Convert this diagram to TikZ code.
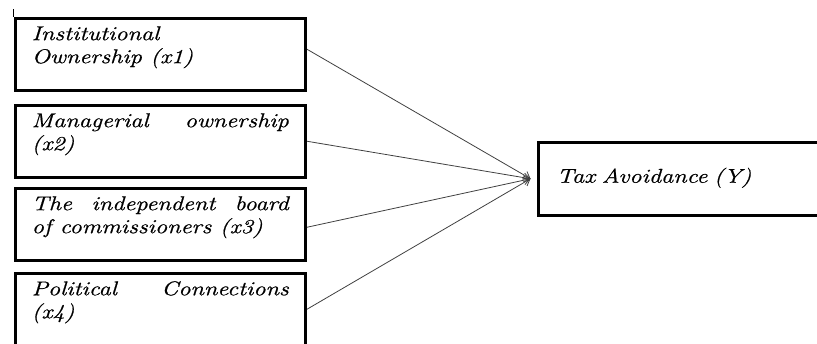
\documentclass[tikz,border=0pt]{standalone}
\usepackage{fontspec}
\newfontfamily\boxfont{Latin Modern Roman}[FakeStretch=1.22, FakeBold=0.8]
\newcommand{\boxgap}{\par\vskip 14pt\hrule height 0pt}
\usetikzlibrary{arrows.meta}

\tikzset{
  factor/.style={draw, line width=3.5pt, anchor=north west, align=justify,
    text width=257pt, inner xsep=16.5pt, inner ysep=0pt, minimum height=72pt,
    font=\boxfont\itshape\fontsize{20}{23}\selectfont},
  outcome/.style={draw, line width=3.5pt, anchor=north west, align=left,
    text width=300pt, inner xsep=18.5pt, inner ysep=0pt, minimum height=73pt,
    text height=16pt, text depth=8pt,
    font=\boxfont\itshape\fontsize{20}{23}\selectfont},
  effect/.style={draw=black!75, line width=0.8pt, -{Straight Barb[length=6pt,width=9pt]}}
}

\begin{document}
\begin{tikzpicture}[x=1pt, y=-1pt]
\useasboundingbox (0,0) rectangle (817,343);

% the four variables
\node[factor] (inst) at (13.5,16.5) {Institutional\newline Ownership (x1)\boxgap};
\node[factor] (manag) at (13.5,103.5) {Managerial ownership\linebreak (x2)\boxgap};
\node[factor] (board) at (13.5,186.5) {The independent board\linebreak of commissioners (x3)\boxgap};
\node[factor] (polit) at (13.5,271.5) {Political Connections\linebreak (x4)\boxgap};
\draw[line width=0.8pt] (inst.north west) -- ++(0,-8);

% outcome
\node[outcome] (tax) at (536.5,140.5) {Tax Avoidance (Y)};
\coordinate (tip) at ([xshift=-6pt]tax.west);

\draw[effect] ([yshift=5pt]inst.east) -- (tip);
\draw[effect] (manag.east) -- (tip);
\draw[effect] ([yshift=-3pt]board.east) -- (tip);
\draw[effect] (polit.east) -- (tip);
\end{tikzpicture}
\end{document}
